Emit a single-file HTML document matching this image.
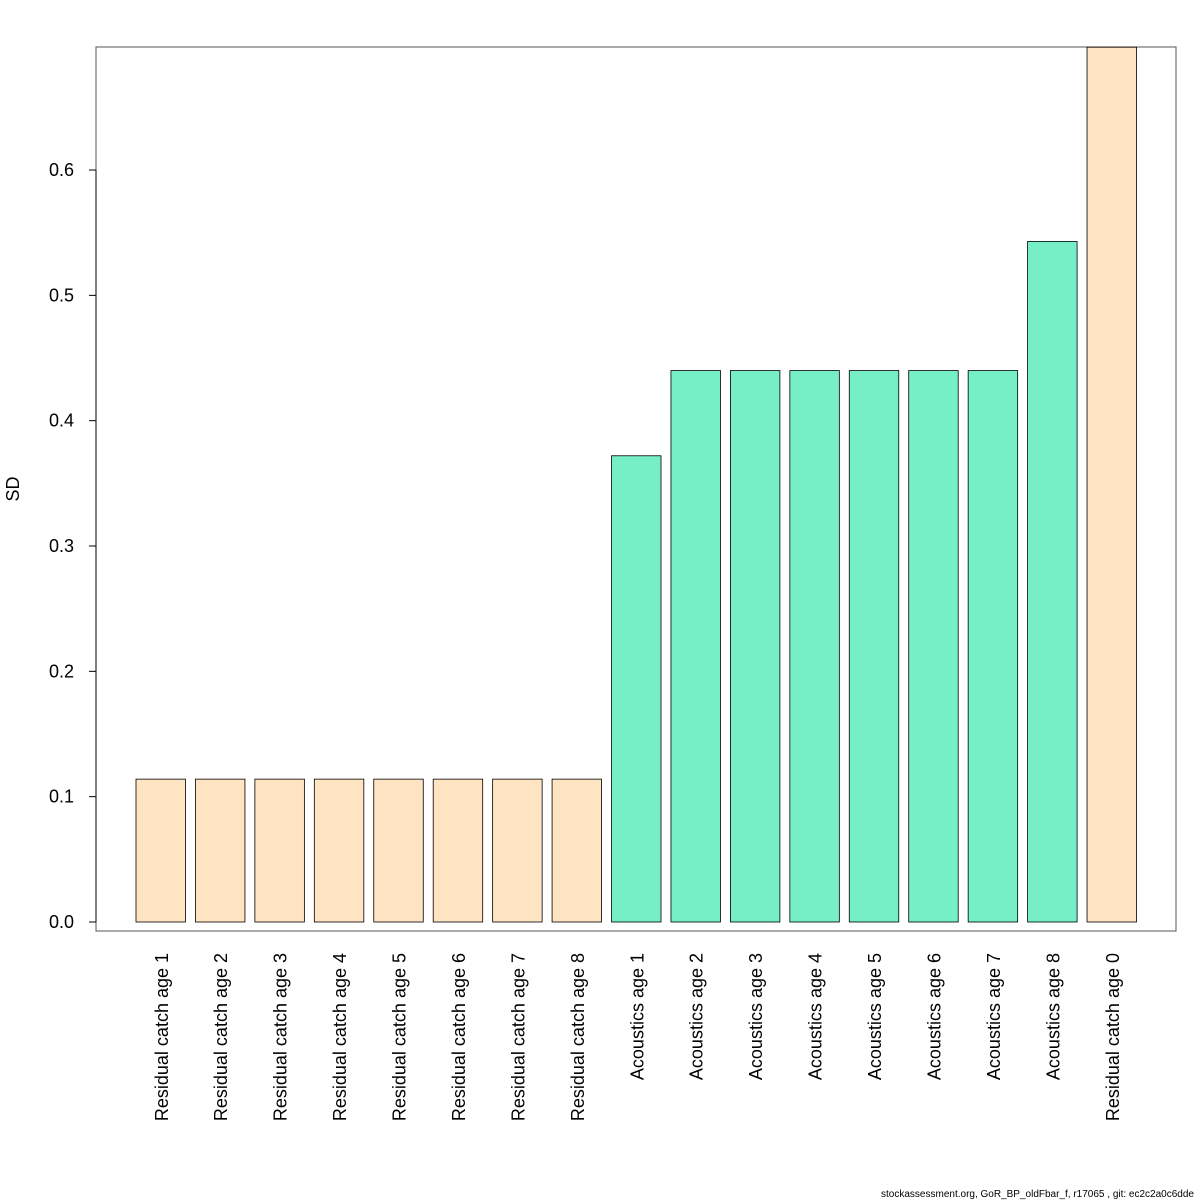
<!DOCTYPE html>
<html><head><meta charset="utf-8"><style>
html,body{margin:0;padding:0;background:#fff;}
svg{display:block;font-family:"Liberation Sans",Arial,sans-serif;}
</style></head><body>
<svg id="chart" width="1200" height="1200" xmlns="http://www.w3.org/2000/svg">
<rect x="96" y="47" width="1080" height="884" fill="none" stroke="#555" stroke-width="1"/>
<g id="bars"></g>
<g id="yaxis"></g>
<g id="xlabels"></g>
<text x="19" y="489" font-size="18" text-anchor="middle" transform="rotate(-90 19 489)">SD</text>
<text x="1194" y="1197" font-size="10" text-anchor="end">stockassessment.org, GoR_BP_oldFbar_f, r17065 , git: ec2c2a0c6dde</text>
</svg>
<script>
const categories=["Residual catch age 1","Residual catch age 2","Residual catch age 3","Residual catch age 4","Residual catch age 5","Residual catch age 6","Residual catch age 7","Residual catch age 8","Acoustics age 1","Acoustics age 2","Acoustics age 3","Acoustics age 4","Acoustics age 5","Acoustics age 6","Acoustics age 7","Acoustics age 8","Residual catch age 0"];
const sdValues=[0.114,0.114,0.114,0.114,0.114,0.114,0.114,0.114,0.372,0.44,0.44,0.44,0.44,0.44,0.44,0.543,0.698];
const groups=["catch","catch","catch","catch","catch","catch","catch","catch","acoustic","acoustic","acoustic","acoustic","acoustic","acoustic","acoustic","acoustic","catch"];
const yTicks=[0,0.1,0.2,0.3,0.4,0.5,0.6];
const yTickLabels=["0.0","0.1","0.2","0.3","0.4","0.5","0.6"];
const NS="http://www.w3.org/2000/svg";
const y=v=>922-v*1253.3;
const xLeft=i=>136+i*59.44;
const bw=49.5;
const colors={catch:"#FFE4C4",acoustic:"#76EEC6"};
const bars=document.getElementById('bars');
sdValues.forEach((v,i)=>{
 const r=document.createElementNS(NS,'rect');
 r.setAttribute('x',xLeft(i));r.setAttribute('y',y(v));
 r.setAttribute('width',bw);r.setAttribute('height',y(0)-y(v));
 r.setAttribute('fill',colors[groups[i]]);r.setAttribute('stroke','#000');r.setAttribute('stroke-width','0.8');
 
 
 bars.appendChild(r);
 const t=document.createElementNS(NS,'text');
 const cx=xLeft(i)+bw/2+7;
 t.setAttribute('x',cx);t.setAttribute('y',953);
 t.setAttribute('transform','rotate(-90 '+cx+' 953)');
 t.setAttribute('text-anchor','end');t.setAttribute('font-size','18');
 t.textContent=categories[i];
 
 
 document.getElementById('xlabels').appendChild(t);
});
const ya=document.getElementById('yaxis');
const al=document.createElementNS(NS,'line');
al.setAttribute('x1',96);al.setAttribute('x2',96);al.setAttribute('y1',y(0));al.setAttribute('y2',y(0.6));al.setAttribute('stroke','#000');


ya.appendChild(al);
yTicks.forEach((v,i)=>{
 const l=document.createElementNS(NS,'line');
 l.setAttribute('x1',89);l.setAttribute('x2',96);l.setAttribute('y1',y(v));l.setAttribute('y2',y(v));l.setAttribute('stroke','#000');
 
 
 ya.appendChild(l);
 const t=document.createElementNS(NS,'text');
 t.setAttribute('x',74);t.setAttribute('y',y(v)+6);t.setAttribute('text-anchor','end');t.setAttribute('font-size','18');
 t.textContent=yTickLabels[i];
 
 
 ya.appendChild(t);
});
</script>
</body></html>
